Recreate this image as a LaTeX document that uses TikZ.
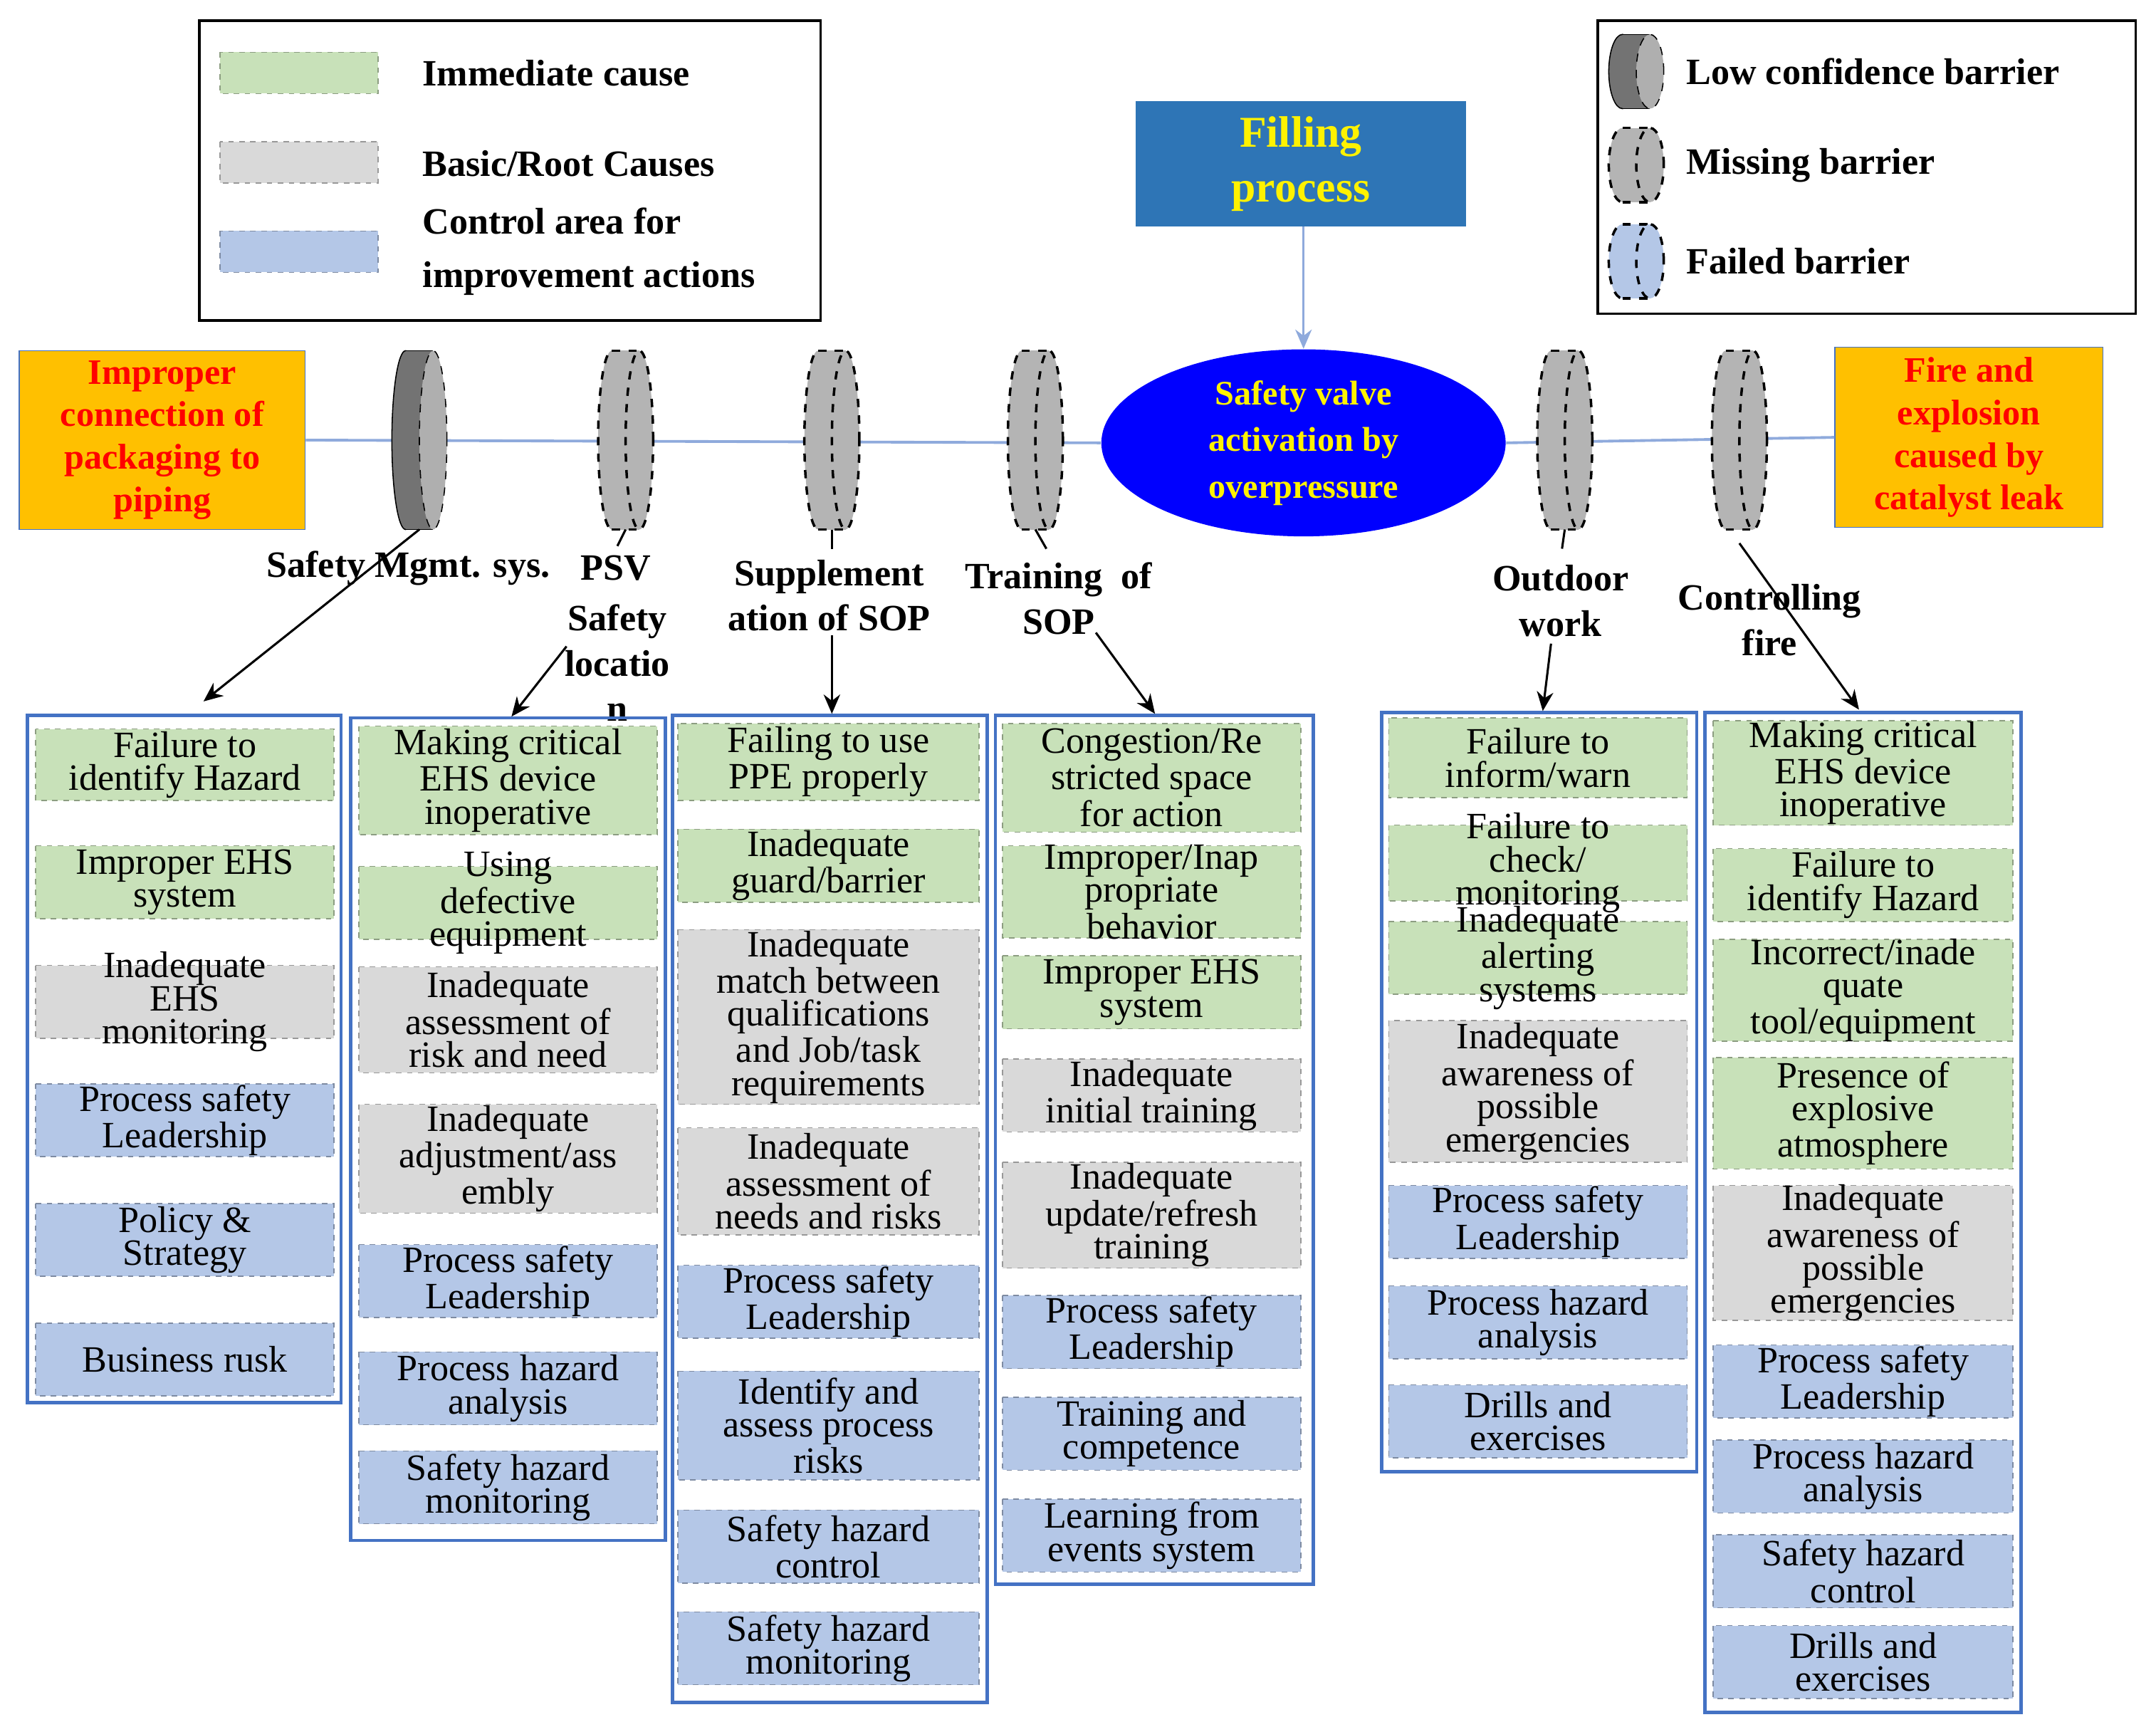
\documentclass[tikz,border=0pt]{standalone}
\usepackage{fontspec}
\setmainfont{Liberation Serif}
\usetikzlibrary{arrows.meta,shapes.geometric}
\definecolor{cg}{RGB}{200,225,185}
\definecolor{cr}{RGB}{217,217,217}
\definecolor{cb}{RGB}{180,199,231}
\definecolor{fr}{RGB}{68,114,196}
\definecolor{fp}{RGB}{46,117,182}
\definecolor{org}{RGB}{255,192,0}
\definecolor{ln}{RGB}{143,170,220}
\definecolor{dg}{RGB}{115,115,115}
\definecolor{dgl}{RGB}{175,175,175}
\definecolor{mg}{RGB}{180,180,180}
\definecolor{vb}{RGB}{0,0,255}
\tikzset{
 igreen/.style={fill=cg,draw=cg!70!black,dash pattern=on 2pt off 2pt,line width=0.4pt},
 igray/.style={fill=cr,draw=cr!70!black,dash pattern=on 2pt off 2pt,line width=0.4pt},
 iblue/.style={fill=cb,draw=cb!70!black,dash pattern=on 2pt off 2pt,line width=0.4pt},
 txt/.style={align=center,font=\fontsize{13.5}{12}\selectfont,inner sep=0pt},
 hd/.style={align=center,font=\fontsize{13.5}{16.5}\selectfont\bfseries,inner sep=0pt},
 frame/.style={draw=fr,line width=1.2pt},
 arr/.style={-{Stealth[length=7pt,width=6pt]},line width=0.8pt},
}
\newcommand\itm[7]{\draw[#2] (#3,#4) rectangle (#5,#6);
 \node[txt] (#1) at ({(#3+#5)/2},{(#4+#6)/2}) {#7};}
\newcommand\barr[6]{%
 \coordinate (#1) at (#2,#3);
 \coordinate (#1b) at (#2,#3+#4);
 \ifnum#6=1
  \filldraw[fill=dg,draw=black] (#2-10,#3) ellipse (5pt and #4*0.5pt);
  \fill[dg] (#2-10,#3-#4) rectangle (#2+10,#3+#4);
  \draw (#2-10,#3-#4)--(#2+10,#3-#4) (#2-10,#3+#4)--(#2+10,#3+#4);
  \filldraw[fill=dgl,draw=black,dashed] (#2+10,#3) ellipse (5pt and #4*0.5pt);
 \else
  \filldraw[fill=#5,draw=black,dashed,line width=0.9pt] (#2-10,#3) ellipse (5pt and #4*0.5pt);
  \fill[#5] (#2-10,#3-#4) rectangle (#2+10,#3+#4);
  \draw[dashed,line width=0.9pt] (#2-10,#3-#4)--(#2+10,#3-#4) (#2-10,#3+#4)--(#2+10,#3+#4);
  \filldraw[fill=#5,draw=black,dashed,line width=0.9pt] (#2+10,#3) ellipse (5pt and #4*0.5pt);
 \fi}
\begin{document}
\begin{tikzpicture}[x=0.5pt,y=-0.5pt]
\useasboundingbox (0,0) rectangle (1568,1259);
% legend left
\draw[line width=0.8pt] (145,15) rectangle (597,233);
\draw[igreen] (160,38) rectangle (275,68);
\draw[igray] (160,103) rectangle (275,133);
\draw[iblue] (160,168) rectangle (275,198);
\node[hd,anchor=west] (l1) at (307,53) {Immediate cause};
\node[hd,anchor=west] (l2) at (307,119) {Basic/Root Causes};
\node[hd,anchor=west,align=left,font=\fontsize{13.5}{19.5}\selectfont\bfseries] (l3) at (307,183) {Control area for\\improvement actions};
% legend right
\draw[line width=0.8pt] (1162,15) rectangle (1553,228);
\barr{g1}{1190}{52}{27}{dg}{1}
\barr{g2}{1190}{120}{27}{mg}{0}
\barr{g3}{1190}{190}{27}{cb}{0}
\node[hd,anchor=west] (r1) at (1226,52) {Low confidence barrier};
\node[hd,anchor=west] (r2) at (1226,120) {Missing barrier};
\node[hd,anchor=west] (r3) at (1226,190) {Failed barrier};
% top
\node[fill=fp,minimum width=120pt,minimum height=45.5pt,hd,text=yellow,font=\fontsize{16}{20}\selectfont\bfseries] (fp) at (946,119) {Filling\\process};
\node[fill=vb,ellipse,minimum width=147pt,minimum height=68pt,inner sep=0pt,hd,text=yellow,font=\fontsize{12.5}{17}\selectfont\bfseries] (sv) at (948,322) {Safety valve\\activation by\\overpressure};
\draw[arr,ln] (fp.south -| sv) -- (sv.north);
\node[fill=org,draw=fr,minimum width=104pt,minimum height=65pt,hd,text=red,font=\fontsize{13}{15.5}\selectfont\bfseries] (ic) at (118,320) {Improper\\connection of\\packaging to\\piping};
\node[fill=org,draw=fr,minimum width=97.5pt,minimum height=65.5pt,hd,text=red,font=\fontsize{13}{15.5}\selectfont\bfseries] (fe) at (1432,318) {Fire and\\explosion\\caused by\\catalyst leak};
\draw[ln,line width=1pt] (ic.east) -- (sv.west);
\draw[ln,line width=1pt] (sv.east) -- (fe.west);
\barr{b1}{305}{320}{65}{dg}{1}
\barr{b2}{455}{320}{65}{mg}{0}
\barr{b3}{605}{320}{65}{mg}{0}
\barr{b4}{753}{320}{65}{mg}{0}
\barr{b5}{1138}{320}{65}{mg}{0}
\barr{b6}{1265}{320}{65}{mg}{0}
% barrier labels
\node[hd] (t1) at (297,413) {Safety Mgmt. sys.};
\node[hd] (t2) at (448,413) {PSV};
\node[hd] (t2b) at (449,482) {Safety\\locatio\\n};
\node[hd] (t3) at (603,433) {Supplement\\ation of SOP};
\node[hd] (t4) at (770,435) {Training~~of\\SOP};
\node[hd] (t5) at (1135,437) {Outdoor\\work};
\node[hd] (t6) at (1287,451) {Controlling\\fire};
% columns
\draw[frame] (20,520) rectangle (248,1020);
\itm{a1}{igreen}{26}{530}{243}{582}{Failure to\\identify Hazard}
\itm{a2}{igreen}{26}{615}{243}{668}{Improper EHS\\system}
\itm{a3}{igray}{26}{702}{243}{755}{Inadequate\\EHS\\monitoring}
\itm{a4}{iblue}{26}{788}{243}{841}{Process safety\\Leadership}
\itm{a5}{iblue}{26}{875}{243}{928}{Policy \&\\Strategy}
\itm{a6}{iblue}{26}{962}{243}{1015}{Business rusk}
\draw[frame] (255,522) rectangle (484,1120);
\itm{b1x}{igreen}{261}{528}{478}{607}{Making critical\\EHS device\\inoperative}
\itm{b2x}{igreen}{261}{630}{478}{683}{Using\\defective\\equipment}
\itm{b3x}{igray}{261}{703}{478}{780}{Inadequate\\assessment of\\risk and need}
\itm{b4x}{igray}{261}{803}{478}{882}{Inadequate\\adjustment/ass\\embly}
\itm{b5x}{iblue}{261}{905}{478}{958}{Process safety\\Leadership}
\itm{b6x}{iblue}{261}{983}{478}{1036}{Process hazard\\analysis}
\itm{b7x}{iblue}{261}{1055}{478}{1108}{Safety hazard\\monitoring}
\draw[frame] (489,520) rectangle (718,1238);
\itm{c1}{igreen}{493}{526}{712}{582}{Failing to use\\PPE properly}
\itm{c2}{igreen}{493}{603}{712}{656}{Inadequate\\guard/barrier}
\itm{c3}{igray}{493}{676}{712}{803}{Inadequate\\match between\\qualifications\\and Job/task\\requirements}
\itm{c4}{igray}{493}{820}{712}{898}{Inadequate\\assessment of\\needs and risks}
\itm{c5}{iblue}{493}{920}{712}{973}{Process safety\\Leadership}
\itm{c6}{iblue}{493}{997}{712}{1076}{Identify and\\assess process\\risks}
\itm{c7}{iblue}{493}{1098}{712}{1151}{Safety hazard\\control}
\itm{c8}{iblue}{493}{1172}{712}{1225}{Safety hazard\\monitoring}
\draw[frame] (724,520) rectangle (955,1152);
\itm{d1}{igreen}{729}{526}{946}{605}{Congestion/Re\\stricted space\\for action}
\itm{d2}{igreen}{729}{615}{946}{682}{Improper/Inap\\propriate\\behavior}
\itm{d3}{igreen}{729}{695}{946}{748}{Improper EHS\\system}
\itm{d4}{igray}{729}{770}{946}{823}{Inadequate\\initial training}
\itm{d5}{igray}{729}{845}{946}{922}{Inadequate\\update/refresh\\training}
\itm{d6}{iblue}{729}{942}{946}{995}{Process safety\\Leadership}
\itm{d7}{iblue}{729}{1016}{946}{1069}{Training and\\competence}
\itm{d8}{iblue}{729}{1090}{946}{1143}{Learning from\\events system}
\draw[frame] (1005,518) rectangle (1234,1070);
\itm{e1}{igreen}{1010}{522}{1227}{580}{Failure to\\inform/warn}
\itm{e2}{igreen}{1010}{600}{1227}{655}{Failure to\\check/\\monitoring}
\itm{e3}{igreen}{1010}{670}{1227}{723}{Inadequate\\alerting\\systems}
\itm{e4}{igray}{1010}{742}{1227}{845}{Inadequate\\awareness of\\possible\\emergencies}
\itm{e5}{iblue}{1010}{862}{1227}{915}{Process safety\\Leadership}
\itm{e6}{iblue}{1010}{935}{1227}{988}{Process hazard\\analysis}
\itm{e7}{iblue}{1010}{1007}{1227}{1060}{Drills and\\exercises}
\draw[frame] (1240,518) rectangle (1470,1245);
\itm{f1}{igreen}{1246}{524}{1464}{600}{Making critical\\EHS device\\inoperative}
\itm{f2}{igreen}{1246}{617}{1464}{670}{Failure to\\identify Hazard}
\itm{f3}{igreen}{1246}{683}{1464}{757}{Incorrect/inade\\quate\\tool/equipment}
\itm{f4}{igreen}{1246}{769}{1464}{850}{Presence of\\explosive\\atmosphere}
\itm{f5}{igray}{1246}{862}{1464}{960}{Inadequate\\awareness of\\possible\\emergencies}
\itm{f6}{iblue}{1246}{978}{1464}{1031}{Process safety\\Leadership}
\itm{f7}{iblue}{1246}{1047}{1464}{1100}{Process hazard\\analysis}
\itm{f8}{iblue}{1246}{1116}{1464}{1169}{Safety hazard\\control}
\itm{f9}{iblue}{1246}{1182}{1464}{1235}{Drills and\\exercises}
% connectors
\coordinate (p1) at (148,510);
\coordinate (q2) at (412,470); \coordinate (p2) at (372,521);
\coordinate (q3) at (605,462); \coordinate (p3) at (605,519);
\coordinate (q4) at (797,460); \coordinate (p4) at (840,519);
\coordinate (q5) at (1128,468); \coordinate (p5) at (1122,517);
\coordinate (q6) at (1265,395); \coordinate (p6) at (1352,516);
\draw[arr] (b1b) -- (p1);
\draw[line width=0.8pt] (b2b) -- ++(-6,12);
\draw[arr] (q2) -- (p2);
\draw[line width=0.8pt] (b3b) -- ++(0,14);
\draw[arr] (q3) -- (p3);
\draw[line width=0.8pt] (b4b) -- ++(8,14);
\draw[arr] (q4) -- (p4);
\draw[line width=0.8pt] (b5b) -- ++(-2,14);
\draw[arr] (q5) -- (p5);
\draw[arr] (q6) -- (p6);
\end{tikzpicture}
\end{document}
